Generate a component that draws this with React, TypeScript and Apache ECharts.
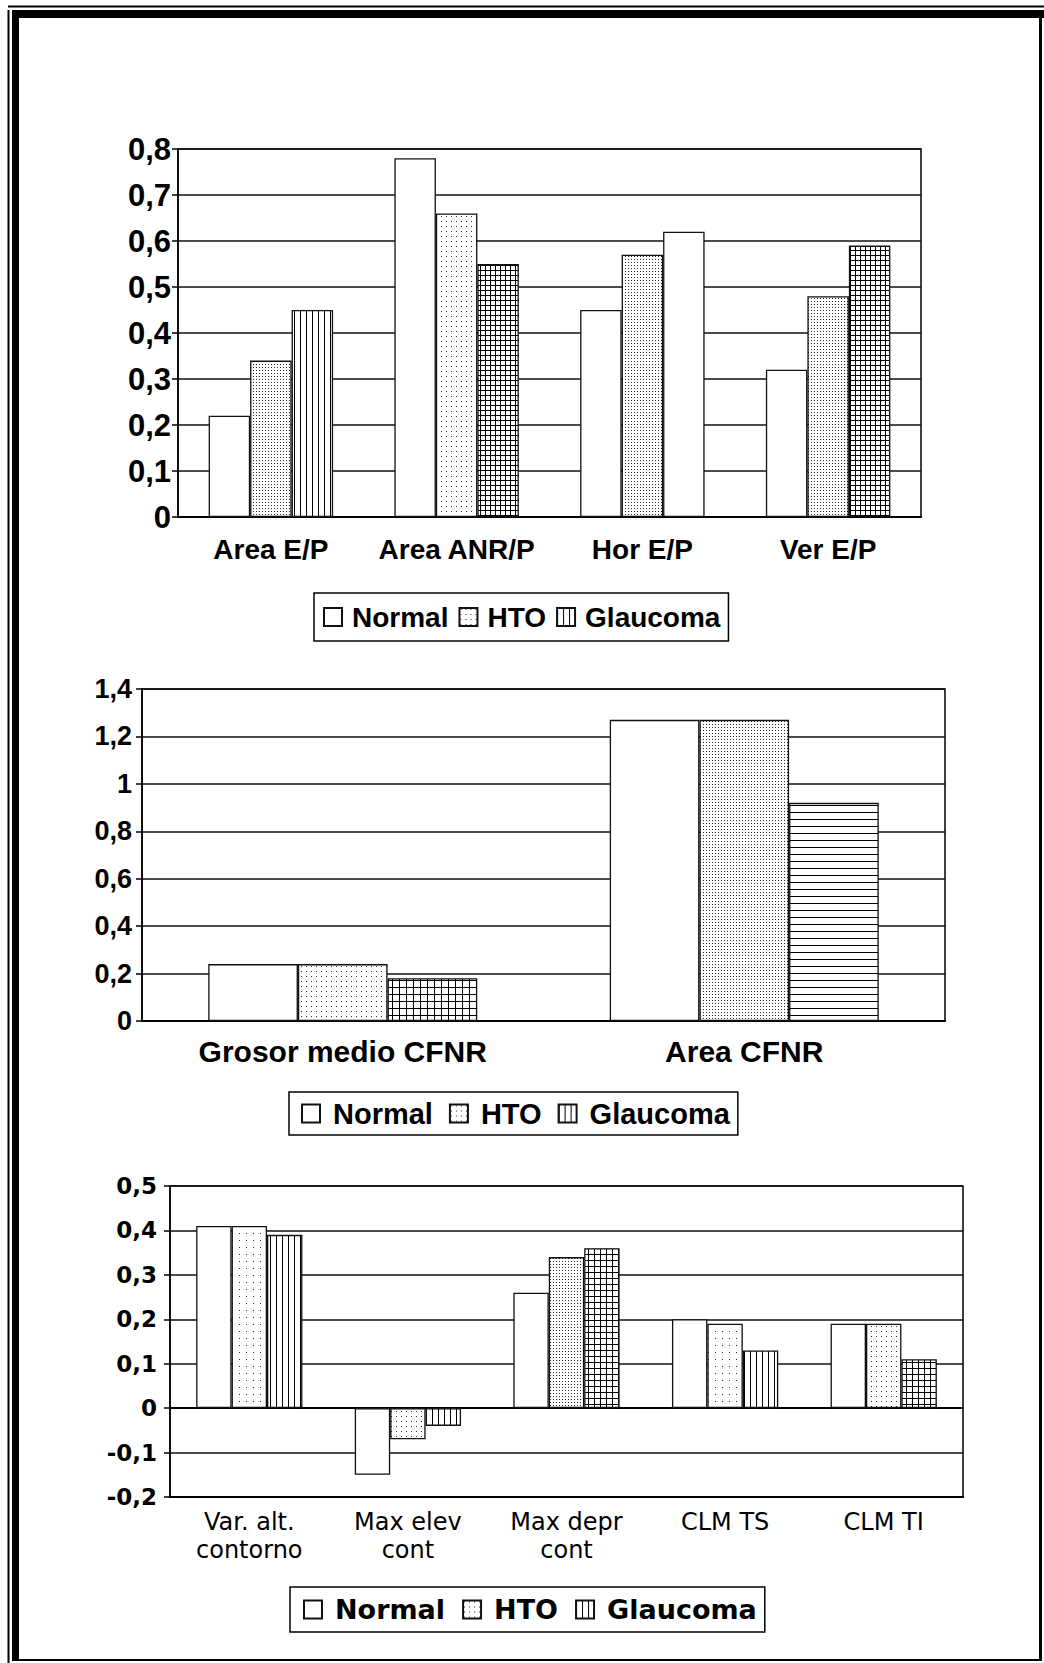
import React, { useEffect, useRef } from "react";
import * as echarts from "echarts";

// ---------- data ----------
const groups = ["Normal", "HTO", "Glaucoma"];

const cats1 = ["Area E/P", "Area ANR/P", "Hor E/P", "Ver E/P"];
const normal1 = [0.22, 0.78, 0.45, 0.32];
const hto1 = [0.34, 0.66, 0.57, 0.48];
const glaucoma1 = [0.45, 0.55, 0.62, 0.59];
const yRange1 = [0, 0.8, 0.1];

const cats2 = ["Grosor medio CFNR", "Area CFNR"];
const normal2 = [0.24, 1.27];
const hto2 = [0.24, 1.27];
const glaucoma2 = [0.18, 0.92];
const yRange2 = [0, 1.4, 0.2];

const cats3 = ["Var. alt.\ncontorno", "Max elev\ncont", "Max depr\ncont", "CLM TS", "CLM TI"];
const normal3 = [0.41, -0.15, 0.26, 0.2, 0.19];
const hto3 = [0.41, -0.07, 0.34, 0.19, 0.19];
const glaucoma3 = [0.39, -0.04, 0.36, 0.13, 0.11];
const yRange3 = [-0.2, 0.5, 0.1];

// fill patterns of each bar
const htoFill1 = ["d3", "d5", "d3", "d3"];
const glaucomaFill1 = ["vlines", "grid5", "plain", "grid5"];
const htoFill2 = ["d5", "d3"];
const glaucomaFill2 = ["grid7", "hlines"];
const htoFill3 = ["d7", "d5", "d3", "d7", "d5"];
const glaucomaFill3 = ["vlines", "vlines", "grid6", "vlines", "grid6"];

// ---------- patterns ----------
const patternCache: Record<string, any> = {};
function fill(kind: string): any {
  if (kind === "plain") return "#ffffff";
  if (patternCache[kind]) return patternCache[kind];
  let w = 4, h = 4;
  let ink = "#000000";
  const draw: Array<(c: CanvasRenderingContext2D) => void> = [];
  if (kind[0] === "d") {
    const s = parseInt(kind.slice(1), 10);
    w = s; h = s;
    ink = "#2a2a2a";
    draw.push((c) => c.fillRect(1, 1, 1, 1));
  } else if (kind === "vlines") {
    w = 6; h = 2;
    draw.push((c) => c.fillRect(0, 0, 1, h));
  } else if (kind === "hlines") {
    w = 2; h = 7;
    draw.push((c) => c.fillRect(0, 0, w, 1));
  } else if (kind.startsWith("grid")) {
    const s = parseInt(kind.slice(4), 10);
    w = s; h = s;
    draw.push((c) => { c.fillRect(0, 0, 1, h); c.fillRect(0, 0, w, 1); });
  }
  const cv = document.createElement("canvas");
  cv.width = w; cv.height = h;
  const ctx = cv.getContext("2d")!;
  ctx.fillStyle = "#ffffff";
  ctx.fillRect(0, 0, w, h);
  ctx.fillStyle = ink;
  draw.forEach((f) => f(ctx));
  const p = { image: cv, repeat: "repeat", imageWidth: w, imageHeight: h };
  patternCache[kind] = p;
  return p;
}

const fmt = (v: number) => String(+v.toFixed(2)).replace(".", ",");

const ARIAL = "'Liberation Sans', Arial, sans-serif";
const NARROW = "'Liberation Sans Narrow', 'Arial Narrow', 'Liberation Sans', sans-serif";
const DEJAVU = "'DejaVu Sans', sans-serif";

export default function App() {
  const ref = useRef<HTMLDivElement>(null);
  useEffect(() => {
    if (!ref.current) return;
    const chart = echarts.init(ref.current, null, { renderer: "svg" });

    const axisLineStyle = { color: "#000", width: 1.5 };
    const splitStyle = { color: "#111", width: 1.5 };

    const mkY = (grid: number, r: number[], size: number, family: string, margin: number) => ({
      type: "value",
      gridIndex: grid,
      min: r[0],
      max: r[1],
      interval: r[2],
      axisLine: { show: true, onZero: false, lineStyle: axisLineStyle },
      axisTick: { show: true, length: 6, lineStyle: axisLineStyle },
      axisLabel: { formatter: fmt, fontSize: size, fontWeight: "bold", fontFamily: family, color: "#000", margin },
      splitLine: { show: true, lineStyle: splitStyle },
    });

    const barSeries = (
      grid: number,
      xIdx: number,
      vals: number[][],
      hFill: string[],
      gFill: string[]
    ) =>
      groups.map((g, gi) => ({
        type: "bar",
        name: g,
        xAxisIndex: xIdx,
        yAxisIndex: grid,
        barGap: "0%",
        barCategoryGap: "33%",
        itemStyle: {
          color: gi === 0 ? "#ffffff" : gi === 1 ? fill("d5") : fill("vlines"),
          borderColor: "#111",
          borderWidth: 1.3,
        },
        data: vals[gi].map((v, i) => ({
          value: v,
          itemStyle: { color: gi === 0 ? "#ffffff" : gi === 1 ? fill(hFill[i]) : fill(gFill[i]) },
        })),
      }));

    const legendBase = {
      orient: "horizontal",
      icon: "rect",
      itemWidth: 18,
      itemHeight: 18,
      borderColor: "#000",
      borderWidth: 1.5,
      selectedMode: false,
      data: groups,
    };

    chart.setOption({
      animation: false,
      backgroundColor: "#ffffff",
      grid: [
        { left: 178, top: 149, width: 743, height: 368, show: true, borderColor: "#000", borderWidth: 1.5 },
        { left: 142, top: 689, width: 803, height: 332, show: true, borderColor: "#000", borderWidth: 1.5 },
        { left: 170, top: 1186, width: 793, height: 311, show: true, borderColor: "#000", borderWidth: 1.5 },
      ],
      xAxis: [
        {
          type: "category", gridIndex: 0, data: cats1,
          axisLine: { lineStyle: { color: "#000", width: 2 } },
          axisTick: { length: 6, lineStyle: axisLineStyle },
          axisLabel: { interval: 0, margin: 18, fontSize: 28, fontWeight: "bold", fontFamily: NARROW, color: "#000" },
        },
        {
          type: "category", gridIndex: 1, data: cats2,
          axisLine: { lineStyle: { color: "#000", width: 2 } },
          axisTick: { length: 6, lineStyle: axisLineStyle },
          axisLabel: { interval: 0, margin: 15, fontSize: 30, fontWeight: "bold", fontFamily: ARIAL, color: "#000" },
        },
        {
          type: "category", gridIndex: 2, data: cats3, position: "bottom",
          axisLine: { onZero: true, lineStyle: { color: "#000", width: 2 } },
          axisTick: { length: 6, lineStyle: axisLineStyle },
          axisLabel: { show: false },
        },
        {
          type: "category", gridIndex: 2, data: cats3, position: "bottom",
          axisLine: { onZero: false, lineStyle: { color: "#000", width: 2 } },
          axisTick: { length: 6, lineStyle: axisLineStyle },
          axisLabel: { interval: 0, margin: 11, fontSize: 24, lineHeight: 28, fontFamily: DEJAVU, color: "#000" },
        },
      ],
      yAxis: [
        mkY(0, yRange1, 31, ARIAL, 7),
        mkY(1, yRange2, 27, ARIAL, 10),
        mkY(2, yRange3, 23, DEJAVU, 13),
      ],
      legend: [
        {
          ...legendBase, left: 314, top: 593, padding: [10, 8, 10, 9], itemGap: 10,
          textStyle: { fontSize: 28, fontWeight: "bold", fontFamily: ARIAL, color: "#000", padding: [0, 0, 0, 5] },
        },
        {
          ...legendBase, left: 289, top: 1092, padding: [7, 8, 7, 12], itemGap: 16,
          textStyle: { fontSize: 29, fontWeight: "bold", fontFamily: ARIAL, color: "#000", padding: [0, 0, 0, 8] },
        },
        {
          ...legendBase, left: 290, top: 1587, padding: [9, 8, 9, 13], itemGap: 17,
          textStyle: { fontSize: 27, fontWeight: "bold", fontFamily: DEJAVU, color: "#000", padding: [0, 0, 0, 8] },
        },
      ],
      series: [
        ...barSeries(0, 0, [normal1, hto1, glaucoma1], htoFill1, glaucomaFill1),
        ...barSeries(1, 1, [normal2, hto2, glaucoma2], htoFill2, glaucomaFill2),
        ...barSeries(2, 2, [normal3, hto3, glaucoma3], htoFill3, glaucomaFill3),
      ],
      graphic: {
        elements: [
          { type: "rect", silent: true, shape: { x: 8, y: 5.5, width: 1036, height: 2 }, style: { fill: "#000" } },
          { type: "rect", silent: true, shape: { x: 7.5, y: 10, width: 2, height: 1653 }, style: { fill: "#000" } },
          { type: "rect", silent: true, shape: { x: 12, y: 10, width: 1032, height: 8 }, style: { fill: "#000" } },
          { type: "rect", silent: true, shape: { x: 12, y: 10, width: 7, height: 1651 }, style: { fill: "#000" } },
          { type: "rect", silent: true, shape: { x: 1039, y: 10, width: 3, height: 1651 }, style: { fill: "#000" } },
          { type: "rect", silent: true, shape: { x: 12, y: 1659, width: 1030, height: 2 }, style: { fill: "#000" } },
        ],
      },
    } as any);

    return () => chart.dispose();
  }, []);

  return (
    <div
      ref={ref}
      style={{ position: "absolute", left: 0, top: 0, width: 1044, height: 1663, background: "#fff" }}
    />
  );
}
